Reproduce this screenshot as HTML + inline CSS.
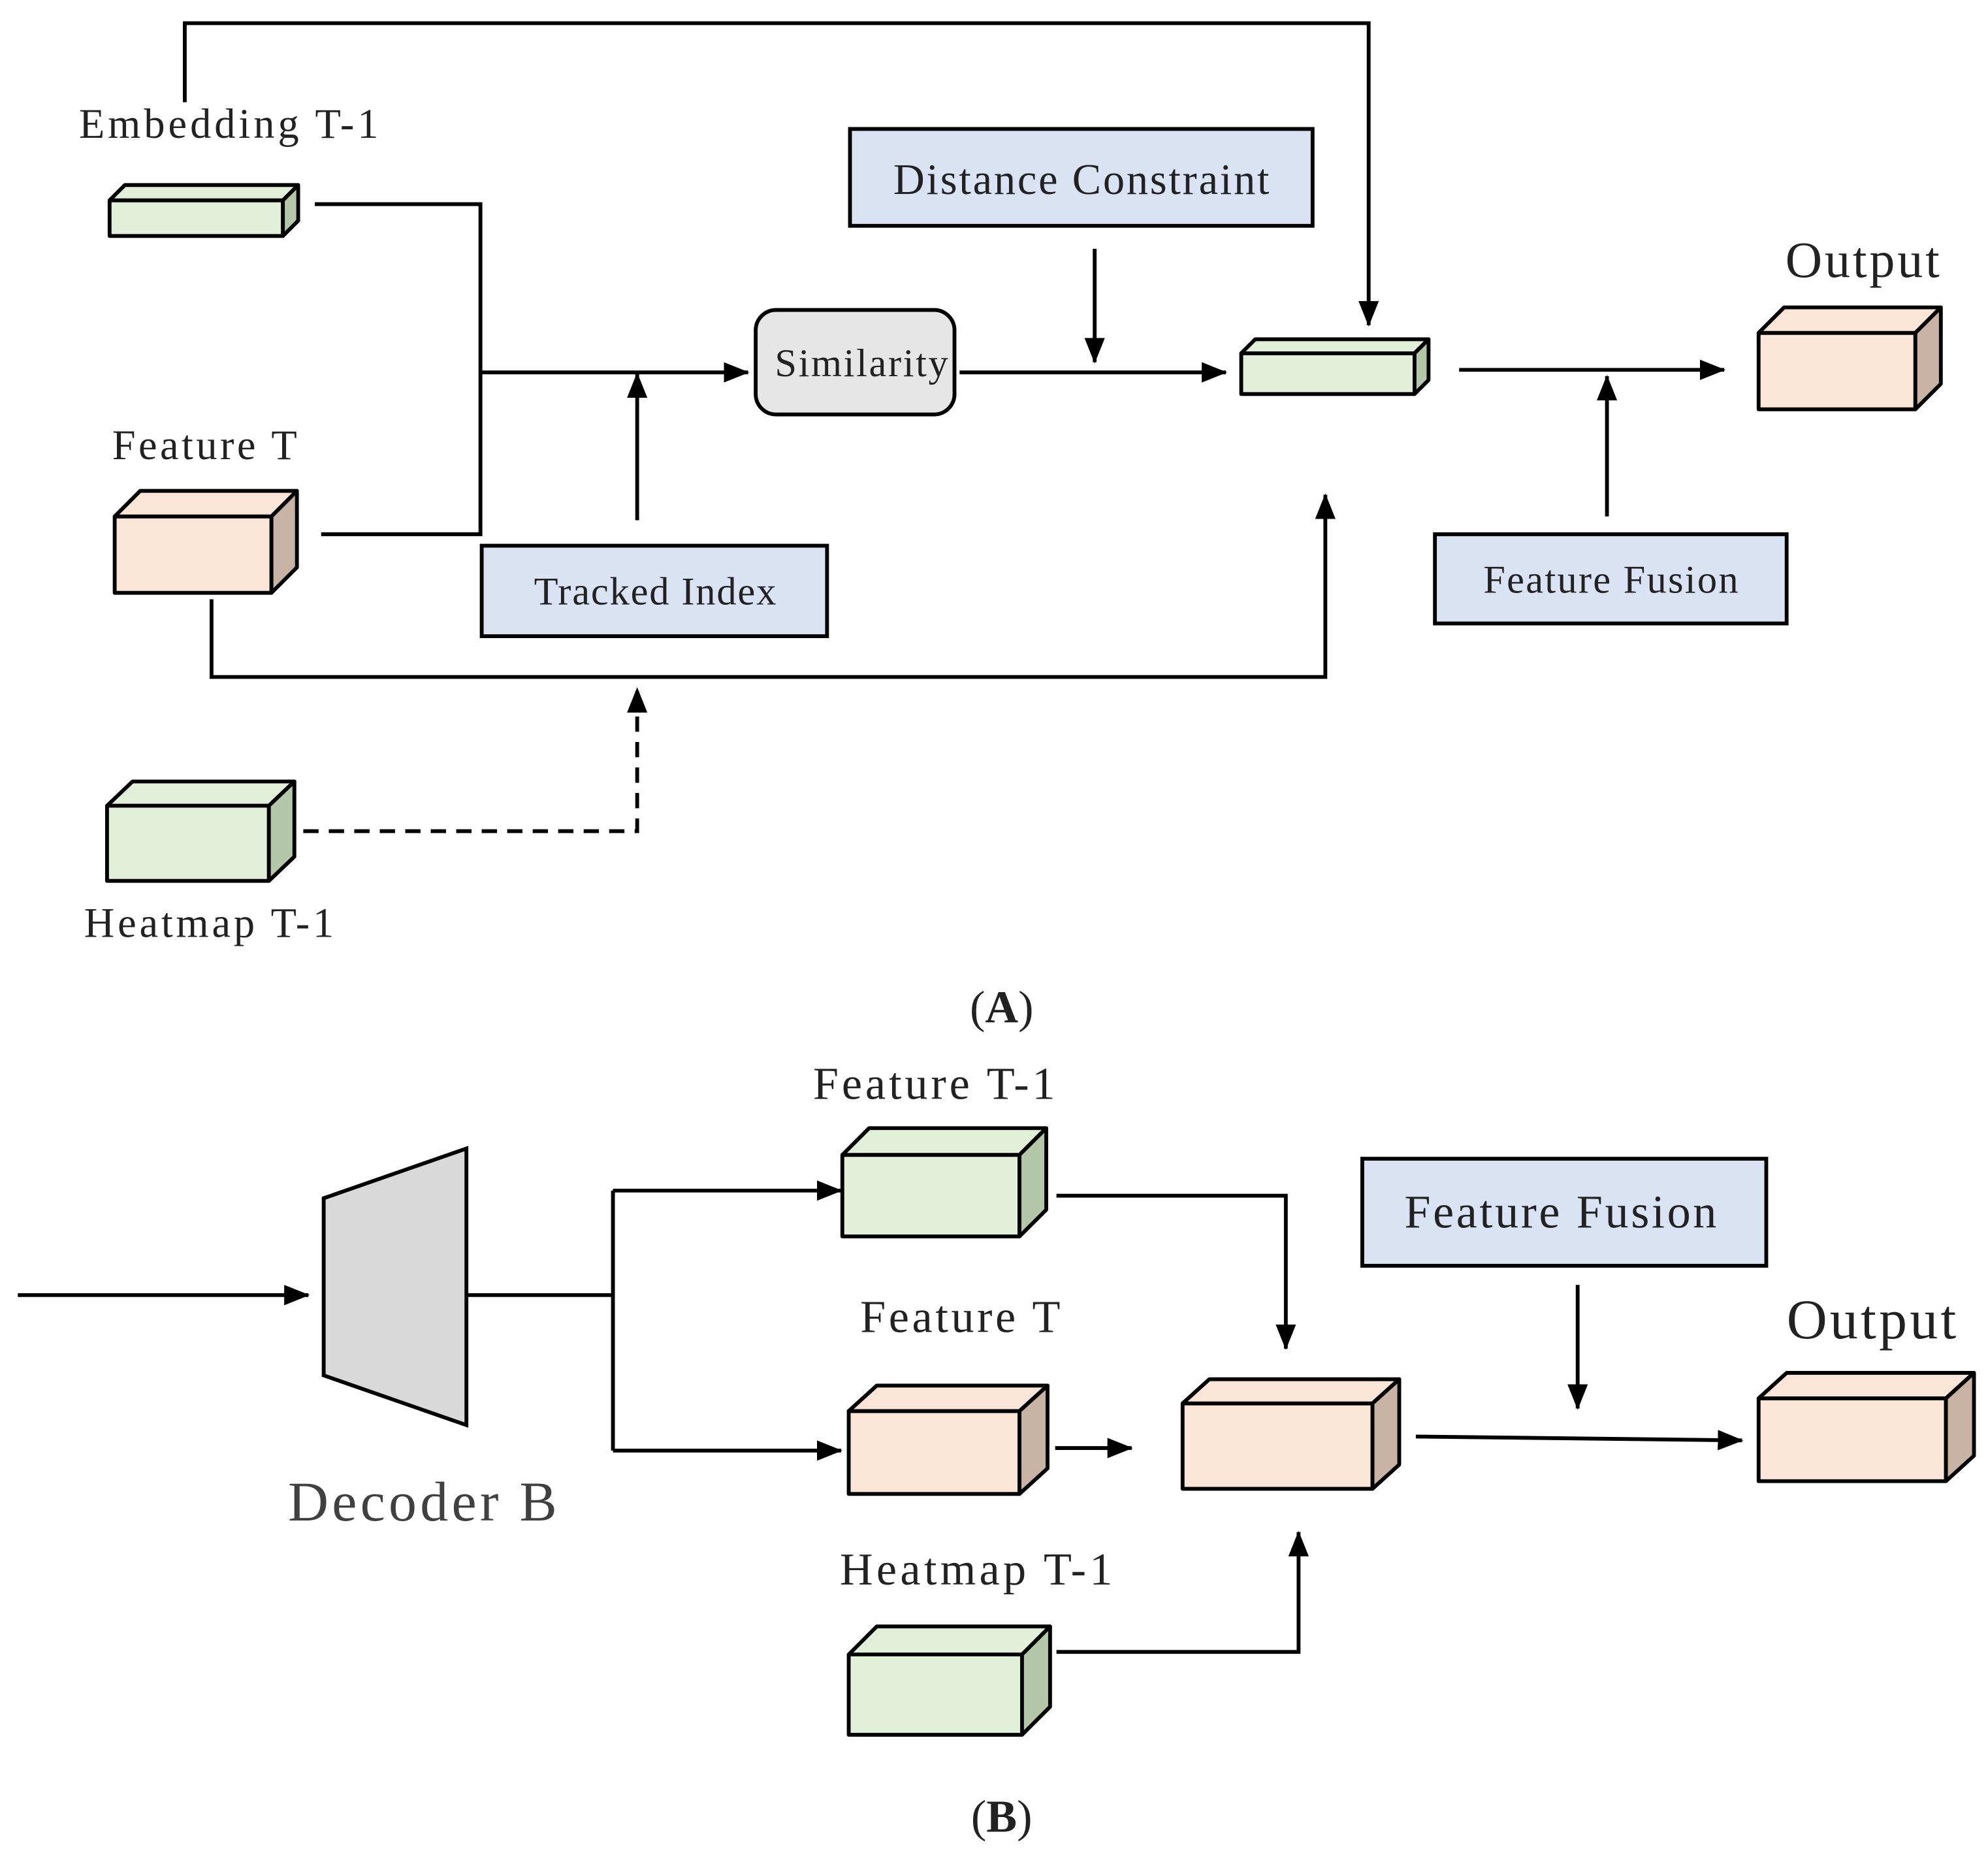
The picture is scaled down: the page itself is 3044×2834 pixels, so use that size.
<!DOCTYPE html>
<html><head><meta charset="utf-8"><style>
html,body{margin:0;padding:0;background:#fff;}
svg{display:block;}
text{font-family:"Liberation Serif",serif;fill:#222;}
</style></head><body>
<svg width="3044" height="2834" viewBox="0 0 1560 1452" xmlns="http://www.w3.org/2000/svg">
<defs>
<marker id="ar" markerWidth="20" markerHeight="16" refX="19" refY="8" orient="auto" markerUnits="userSpaceOnUse" viewBox="0 0 20 16">
<path d="M0,0 L20,8 L0,16 z" fill="#000"/></marker>
</defs>
<g stroke="#000" stroke-width="3" fill="none">
<polyline points="145,80 145,18 1074,18 1074,255" marker-end="url(#ar)"/>
<polyline points="247,160 377,160 377,419 252,419"/>
<line x1="377" y1="292" x2="587" y2="292" marker-end="url(#ar)"/>
<line x1="500" y1="408" x2="500" y2="293" marker-end="url(#ar)"/>
<line x1="753" y1="292" x2="962" y2="292" marker-end="url(#ar)"/>
<line x1="859" y1="195" x2="859" y2="284" marker-end="url(#ar)"/>
<polyline points="166,470 166,531 1040,531 1040,388" marker-end="url(#ar)"/>
<polyline points="238,652 500,652 500,540" stroke-dasharray="12,8" marker-end="url(#ar)"/>
<line x1="1145" y1="290" x2="1353" y2="290" marker-end="url(#ar)"/>
<line x1="1261" y1="405" x2="1261" y2="295" marker-end="url(#ar)"/>
<line x1="14" y1="1016" x2="242" y2="1016" marker-end="url(#ar)"/>
<polyline points="366,1016 481,1016"/>
<line x1="481" y1="934" x2="481" y2="1138"/>
<line x1="481" y1="934" x2="660" y2="934" marker-end="url(#ar)"/>
<line x1="481" y1="1138" x2="660" y2="1138" marker-end="url(#ar)"/>
<polyline points="829,938 1009,938 1009,1058" marker-end="url(#ar)"/>
<line x1="828" y1="1136" x2="888" y2="1136" marker-end="url(#ar)"/>
<polyline points="829,1296 1019,1296 1019,1202" marker-end="url(#ar)"/>
<line x1="1238" y1="1008" x2="1238" y2="1105" marker-end="url(#ar)"/>
<line x1="1111" y1="1127" x2="1367" y2="1130" marker-end="url(#ar)"/>
</g>
<g stroke="#000" stroke-width="3">
<rect x="667" y="101" width="363" height="76" fill="#dae3f3"/>
<rect x="378" y="428" width="271" height="71" fill="#dae3f3"/>
<rect x="1126" y="419" width="276" height="70" fill="#dae3f3"/>
<rect x="1069" y="909" width="317" height="84" fill="#dae3f3"/>
<rect x="593" y="243" width="156" height="82" rx="16" fill="#e7e6e6"/>
<polygon points="254,940 366,901 366,1118 254,1079" fill="#d9d9d9"/>
</g>
<g stroke="#000" stroke-width="3" stroke-linejoin="round">
<g fill="#e2efd9">
<rect x="86" y="157" width="136" height="28"/><polygon points="86,157 98,145 234,145 222,157"/><polygon points="222,157 234,145 234,173 222,185" fill="#b4c7a8"/>
<rect x="84" y="632" width="127" height="59"/><polygon points="84,632 104,613 231,613 211,632"/><polygon points="211,632 231,613 231,672 211,691" fill="#b4c7a8"/>
<rect x="974" y="277" width="136" height="32"/><polygon points="974,277 985,266 1121,266 1110,277"/><polygon points="1110,277 1121,266 1121,298 1110,309" fill="#b4c7a8"/>
<rect x="661" y="906" width="139" height="64"/><polygon points="661,906 682,885 821,885 800,906"/><polygon points="800,906 821,885 821,949 800,970" fill="#b4c7a8"/>
<rect x="666" y="1298" width="136" height="63"/><polygon points="666,1298 688,1276 824,1276 802,1298"/><polygon points="802,1298 824,1276 824,1339 802,1361" fill="#b4c7a8"/>
</g>
<g fill="#fbe5d6">
<rect x="90" y="405" width="123" height="60"/><polygon points="90,405 110,385 233,385 213,405"/><polygon points="213,405 233,385 233,445 213,465" fill="#c9b3a5"/>
<rect x="1380" y="261" width="123" height="60"/><polygon points="1380,261 1400,241 1523,241 1503,261"/><polygon points="1503,261 1523,241 1523,301 1503,321" fill="#c9b3a5"/>
<rect x="666" y="1107" width="134" height="65"/><polygon points="666,1107 688,1087 822,1087 800,1107"/><polygon points="800,1107 822,1087 822,1152 800,1172" fill="#c9b3a5"/>
<rect x="928" y="1101" width="149" height="67"/><polygon points="928,1101 949,1082 1098,1082 1077,1101"/><polygon points="1077,1101 1098,1082 1098,1149 1077,1168" fill="#c9b3a5"/>
<rect x="1380" y="1097" width="147" height="65"/><polygon points="1380,1097 1402,1077 1549,1077 1527,1097"/><polygon points="1527,1097 1549,1077 1549,1142 1527,1162" fill="#c9b3a5"/>
</g>
</g>
<g font-size="33">
<text x="62" y="108" textLength="235" lengthAdjust="spacing">Embedding T-1</text>
<text x="88" y="360" textLength="145" lengthAdjust="spacing">Feature T</text>
<text x="66" y="735" textLength="196" lengthAdjust="spacing">Heatmap T-1</text>
<text x="701" y="152" font-size="34" textLength="295" lengthAdjust="spacing">Distance Constraint</text>
<text x="419" y="474" font-size="31" textLength="190" lengthAdjust="spacing">Tracked Index</text>
<text x="608" y="295" font-size="31" textLength="136" lengthAdjust="spacing">Similarity</text>
<text x="1164" y="465" font-size="31" textLength="200" lengthAdjust="spacing">Feature Fusion</text>
<text x="1401" y="217" font-size="40" textLength="121" lengthAdjust="spacing">Output</text>
<text x="786" y="802" text-anchor="middle" font-size="36">(<tspan font-weight="bold">A</tspan>)</text>
<text x="638" y="862" font-size="36" textLength="190" lengthAdjust="spacing">Feature T-1</text>
<text x="675" y="1045" font-size="36" textLength="157" lengthAdjust="spacing">Feature T</text>
<text x="659" y="1243" font-size="36" textLength="214" lengthAdjust="spacing">Heatmap T-1</text>
<text x="1102" y="963" font-size="37" textLength="245" lengthAdjust="spacing">Feature Fusion</text>
<text x="1402" y="1050" font-size="44" textLength="133" lengthAdjust="spacing">Output</text>
<text x="226" y="1193" font-size="44" textLength="211" lengthAdjust="spacing" style="fill:#404040">Decoder B</text>
<text x="786" y="1437" text-anchor="middle" font-size="36">(<tspan font-weight="bold">B</tspan>)</text>
</g>
</svg>
</body></html>
